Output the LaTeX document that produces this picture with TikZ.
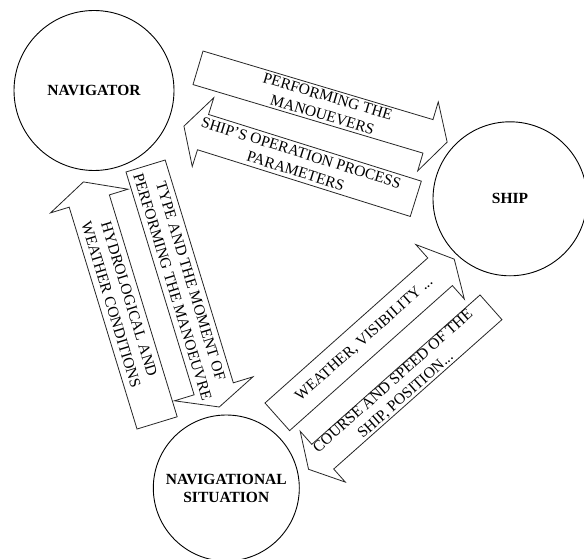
\documentclass[tikz,border=0pt]{standalone}
\usepackage{fontspec}
\setmainfont{Liberation Serif}

\begin{document}
\begin{tikzpicture}[
    x=1pt, y=1pt,
    agent/.style={circle, draw, line width=0.9pt, minimum size=#1, inner sep=0pt, align=center, font=\fontsize{15.5}{18}\selectfont\bfseries},
    flow/.style={draw=black!85, line width=0.8pt, fill=white, line join=miter},
    flowtext/.style={align=center, inner sep=0pt, font=\fontsize{15.5}{19}\selectfont}
]

\fill[white] (0,0) rectangle (584,558);
\useasboundingbox (0,0) rectangle (584,558);

% Agents
\node[agent=160pt] (nav) at (94,467.5) {NAVIGATOR};
\node[agent=154pt] (ship) at (510,359.2) {SHIP};
\node[agent=146pt] (situation) at (226.3,70) {NAVIGATIONAL\\SITUATION};

% Navigator -> Ship
\begin{scope}[shift={(198,490.2)}, rotate=-16.6]
  \draw[flow] (0,-17.5) -- (240,-17.5) -- (240,-36) -- (260,0) -- (240,36) -- (240,17.5) -- (0,17.5) -- cycle;
  \node[flowtext, rotate=-16.6] (perform) at (132.6,0) {PERFORMING THE\\MANOUEVERS};
\end{scope}

% Ship -> Navigator
\begin{scope}[shift={(415.8,359.2)}, rotate=162.6]
  \draw[flow] (0,-18.5) -- (223,-18.5) -- (223,-36) -- (243,0) -- (223,36) -- (223,18.5) -- (0,18.5) -- cycle;
  \node[flowtext, rotate=-17.4] (params) at (123,0) {SHIP'S OPERATION PROCESS\\PARAMETERS};
\end{scope}

% Navigator -> Situation
\begin{scope}[shift={(145.6,392)}, rotate=-73]
  \draw[flow] (0,-20.5) -- (233,-20.5) -- (233,-41) -- (252,0) -- (233,41) -- (233,20.5) -- (0,20.5) -- cycle;
  \node[flowtext, rotate=-73] (typemoment) at (123.4,0) {TYPE AND THE MOMENT OF\\PERFORMING THE MANOEUVRE};
\end{scope}

% Situation -> Navigator
\begin{scope}[shift={(157.1,135.1)}, rotate=107]
  \draw[flow] (0,-21) -- (232,-21) -- (232,-40.5) -- (252,0) -- (232,40.5) -- (232,21) -- (0,21) -- cycle;
  \node[flowtext, rotate=-73] (hydro) at (126.4,0) {HYDROLOGICAL AND\\WEATHER CONDITIONS};
\end{scope}

% Situation -> Ship
\begin{scope}[shift={(277.3,141.2)}, rotate=41.7]
  \draw[flow] (0,-18.5) -- (218,-18.5) -- (218,-36.5) -- (237,0) -- (218,36.5) -- (218,18.5) -- (0,18.5) -- cycle;
  \node[flowtext, rotate=41.7] (weather) at (116.6,0) {WEATHER, VISIBILITY ...};
\end{scope}

% Ship -> Situation
\begin{scope}[shift={(491,250.7)}, rotate=221.6]
  \draw[flow] (0,-16.5) -- (225,-16.5) -- (225,-34) -- (244,0) -- (225,34) -- (225,16.5) -- (0,16.5) -- cycle;
  \node[flowtext, rotate=41.6] (course) at (122.3,0) {COURSE AND SPEED OF THE\\SHIP, POSITION...};
\end{scope}

\end{tikzpicture}
\end{document}
